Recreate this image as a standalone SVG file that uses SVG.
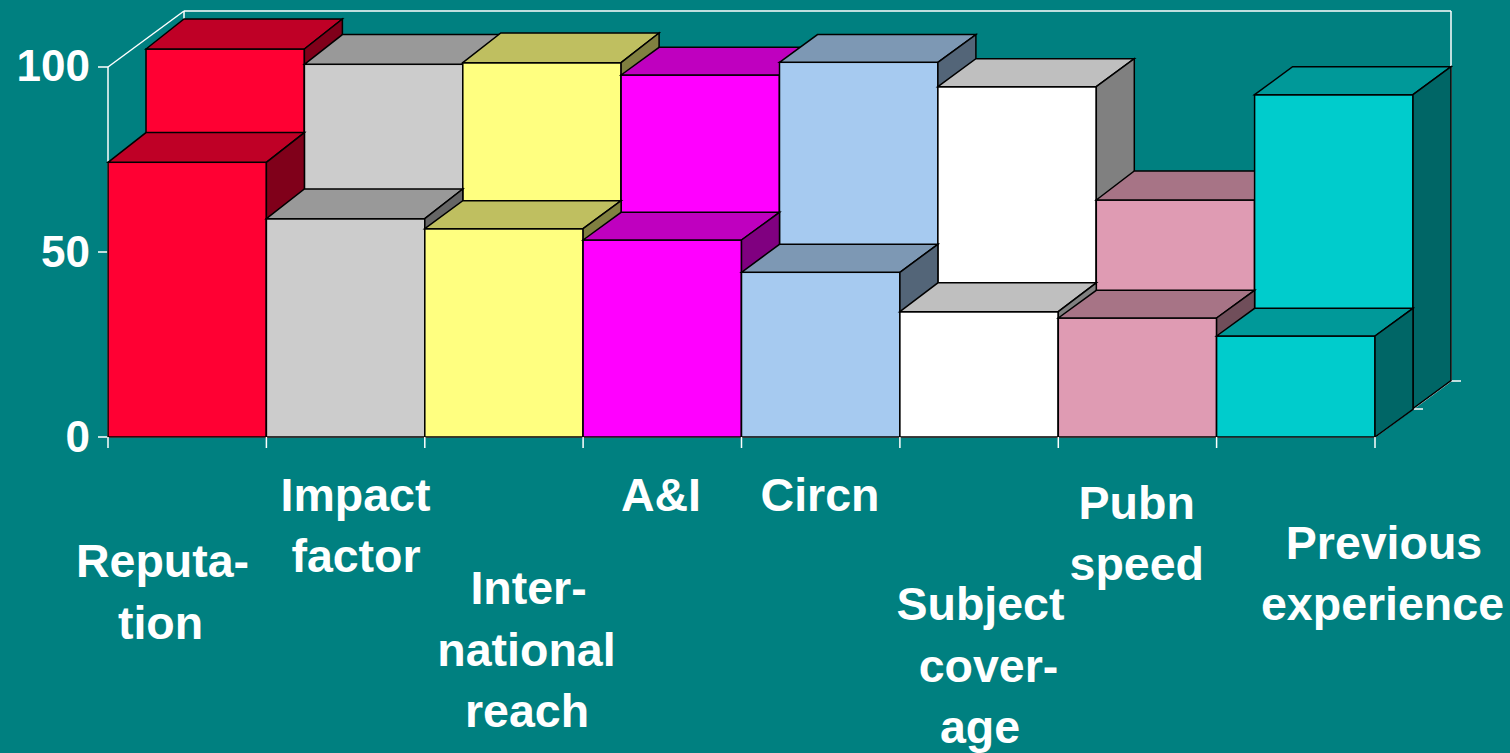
<svg xmlns="http://www.w3.org/2000/svg" width="1510" height="753" viewBox="0 0 1510 753">
<style>
.ax{stroke:#FFFFFF;stroke-width:1.5;fill:none}
.bx{stroke:#000000;stroke-width:1.5;stroke-linejoin:miter}
.lbl{font-family:"Liberation Sans",Arial,sans-serif;font-weight:bold;font-size:46.5px;fill:#FFFFFF;text-anchor:middle}
.num{font-family:"Liberation Sans",Arial,sans-serif;font-weight:bold;font-size:44px;fill:#FFFFFF;text-anchor:end}
.redF{fill:#FF0033}.redT{fill:#BF0026}.redS{fill:#80001A}
.grayF{fill:#CCCCCC}.grayT{fill:#999999}.grayS{fill:#666666}
.yelF{fill:#FFFF80}.yelT{fill:#BFBF60}.yelS{fill:#808040}
.magF{fill:#FF00FF}.magT{fill:#BF00BF}.magS{fill:#800080}
.bluF{fill:#A6CAF0}.bluT{fill:#7D98B4}.bluS{fill:#536578}
.whtF{fill:#FFFFFF}.whtT{fill:#BFBFBF}.whtS{fill:#808080}
.pnkF{fill:#DF9BB3}.pnkT{fill:#A77486}.pnkS{fill:#704E5A}
.cyaF{fill:#00CCCC}.cyaT{fill:#009999}.cyaS{fill:#006666}
</style>
<rect x="0" y="0" width="1510" height="753" fill="#008080"/>

<g id="axes">
<line class="ax" x1="108" y1="67" x2="184" y2="11"/>
<line class="ax" x1="184" y1="11" x2="1451" y2="11"/>
<line class="ax" x1="1451" y1="11" x2="1451" y2="381"/>
<line class="ax" x1="184" y1="11" x2="184" y2="381"/>
<line class="ax" x1="108" y1="67" x2="108" y2="437"/>
<line class="ax" x1="108" y1="437" x2="1375" y2="437"/>
<line class="ax" x1="1375" y1="437" x2="1451" y2="381"/>
<line class="ax" x1="98" y1="67" x2="108" y2="67"/>
<line class="ax" x1="98" y1="252" x2="108" y2="252"/>
<line class="ax" x1="98" y1="437" x2="108" y2="437"/>
<line class="ax" x1="1413" y1="409" x2="1423" y2="409"/>
<line class="ax" x1="1451" y1="381" x2="1461" y2="381"/>
</g>

<g id="back-series">
<g id="back-reputation">
<rect class="bx redF" x="146" y="49" width="158.4" height="359.5"/>
<polygon class="bx redT" points="146,49 184,19 342.4,19 304.4,49"/>
<polygon class="bx redS" points="304.4,49 342.4,19 342.4,378.5 304.4,408.5"/>
</g>
<g id="back-impact">
<rect class="bx grayF" x="304.4" y="64.3" width="158.4" height="344.2"/>
<polygon class="bx grayT" points="304.4,64.3 342.4,34.6 500.8,34.6 462.8,64.3"/>
<polygon class="bx grayS" points="462.8,64.3 500.8,34.6 500.8,378.8 462.8,408.5"/>
</g>
<g id="back-international">
<rect class="bx yelF" x="462.8" y="62.7" width="158.3" height="345.8"/>
<polygon class="bx yelT" points="462.8,62.7 500.8,33 659.1,33 621.1,62.7"/>
<polygon class="bx yelS" points="621.1,62.7 659.1,33 659.1,378.8 621.1,408.5"/>
</g>
<g id="back-ai">
<rect class="bx magF" x="621.1" y="75" width="158.4" height="333.5"/>
<polygon class="bx magT" points="621.1,75 659.1,47.3 817.5,47.3 779.5,75"/>
<polygon class="bx magS" points="779.5,75 817.5,47.3 817.5,380.8 779.5,408.5"/>
</g>
<g id="back-circn">
<rect class="bx bluF" x="779.5" y="62.3" width="158.4" height="346.2"/>
<polygon class="bx bluT" points="779.5,62.3 817.5,34.6 975.9,34.6 937.9,62.3"/>
<polygon class="bx bluS" points="937.9,62.3 975.9,34.6 975.9,380.8 937.9,408.5"/>
</g>
<g id="back-subject">
<rect class="bx whtF" x="937.9" y="86.7" width="158.4" height="321.8"/>
<polygon class="bx whtT" points="937.9,86.7 975.9,58.7 1134.3,58.7 1096.3,86.7"/>
<polygon class="bx whtS" points="1096.3,86.7 1134.3,58.7 1134.3,380.5 1096.3,408.5"/>
</g>
<g id="back-pubn">
<rect class="bx pnkF" x="1096.3" y="200" width="158.3" height="208.5"/>
<polygon class="bx pnkT" points="1096.3,200 1134.3,171 1292.6,171 1254.6,200"/>
<polygon class="bx pnkS" points="1254.6,200 1292.6,171 1292.6,379.5 1254.6,408.5"/>
</g>
<g id="back-previous">
<rect class="bx cyaF" x="1254.6" y="94.7" width="158.4" height="313.8"/>
<polygon class="bx cyaT" points="1254.6,94.7 1292.6,66.7 1451,66.7 1413,94.7"/>
<polygon class="bx cyaS" points="1413,94.7 1451,66.7 1451,380.5 1413,408.5"/>
</g>
</g>

<g id="front-series">
<g id="front-reputation">
<rect class="bx redF" x="108" y="162.3" width="158.4" height="274.7"/>
<polygon class="bx redT" points="108,162.3 146,132.6 304.4,132.6 266.4,162.3"/>
<polygon class="bx redS" points="266.4,162.3 304.4,132.6 304.4,407.3 266.4,437"/>
</g>
<g id="front-impact">
<rect class="bx grayF" x="266.4" y="218.7" width="158.4" height="218.3"/>
<polygon class="bx grayT" points="266.4,218.7 304.4,189 462.8,189 424.8,218.7"/>
<polygon class="bx grayS" points="424.8,218.7 462.8,189 462.8,407.3 424.8,437"/>
</g>
<g id="front-international">
<rect class="bx yelF" x="424.8" y="228.7" width="158.3" height="208.3"/>
<polygon class="bx yelT" points="424.8,228.7 462.8,200.7 621.1,200.7 583.1,228.7"/>
<polygon class="bx yelS" points="583.1,228.7 621.1,200.7 621.1,409 583.1,437"/>
</g>
<g id="front-ai">
<rect class="bx magF" x="583.1" y="240" width="158.4" height="197"/>
<polygon class="bx magT" points="583.1,240 621.1,212.3 779.5,212.3 741.5,240"/>
<polygon class="bx magS" points="741.5,240 779.5,212.3 779.5,409.3 741.5,437"/>
</g>
<g id="front-circn">
<rect class="bx bluF" x="741.5" y="272.3" width="158.4" height="164.7"/>
<polygon class="bx bluT" points="741.5,272.3 779.5,244.3 937.9,244.3 899.9,272.3"/>
<polygon class="bx bluS" points="899.9,272.3 937.9,244.3 937.9,409 899.9,437"/>
</g>
<g id="front-subject">
<rect class="bx whtF" x="899.9" y="311.7" width="158.4" height="125.3"/>
<polygon class="bx whtT" points="899.9,311.7 937.9,282.8 1096.3,282.8 1058.3,311.7"/>
<polygon class="bx whtS" points="1058.3,311.7 1096.3,282.8 1096.3,408.1 1058.3,437"/>
</g>
<g id="front-pubn">
<rect class="bx pnkF" x="1058.3" y="318" width="158.3" height="119"/>
<polygon class="bx pnkT" points="1058.3,318 1096.3,290.3 1254.6,290.3 1216.6,318"/>
<polygon class="bx pnkS" points="1216.6,318 1254.6,290.3 1254.6,409.3 1216.6,437"/>
</g>
<g id="front-previous">
<rect class="bx cyaF" x="1216.6" y="336" width="158.4" height="101"/>
<polygon class="bx cyaT" points="1216.6,336 1254.6,308.3 1413,308.3 1375,336"/>
<polygon class="bx cyaS" points="1375,336 1413,308.3 1413,409.3 1375,437"/>
</g>
</g>

<g id="category-ticks">
<line class="ax" x1="108" y1="437" x2="108" y2="448"/>
<line class="ax" x1="266.4" y1="437" x2="266.4" y2="448"/>
<line class="ax" x1="424.8" y1="437" x2="424.8" y2="448"/>
<line class="ax" x1="583.1" y1="437" x2="583.1" y2="448"/>
<line class="ax" x1="741.5" y1="437" x2="741.5" y2="448"/>
<line class="ax" x1="899.9" y1="437" x2="899.9" y2="448"/>
<line class="ax" x1="1058.3" y1="437" x2="1058.3" y2="448"/>
<line class="ax" x1="1216.6" y1="437" x2="1216.6" y2="448"/>
<line class="ax" x1="1375" y1="437" x2="1375" y2="448"/>
</g>

<g id="value-labels">
<text class="num" x="90" y="81">100</text>
<text class="num" x="90" y="266.5">50</text>
<text class="num" x="90" y="451.5">0</text>
</g>

<g id="category-labels">
<text class="lbl" x="162.5" y="577">Reputa-</text>
<text class="lbl" x="160.5" y="638.5">tion</text>
<text class="lbl" x="355.5" y="511">Impact</text>
<text class="lbl" x="356" y="572">factor</text>
<text class="lbl" x="528.5" y="604">Inter-</text>
<text class="lbl" x="526.5" y="666">national</text>
<text class="lbl" x="527" y="727">reach</text>
<text class="lbl" x="661" y="511">A&amp;I</text>
<text class="lbl" x="820" y="511">Circn</text>
<text class="lbl" x="980.5" y="620">Subject</text>
<text class="lbl" x="988.5" y="681.5">cover-</text>
<text class="lbl" x="980" y="743">age</text>
<text class="lbl" x="1136.7" y="518.5">Pubn</text>
<text class="lbl" x="1136.8" y="580">speed</text>
<text class="lbl" x="1384" y="558.5">Previous</text>
<text class="lbl" x="1382.5" y="620">experience</text>
</g>
</svg>
